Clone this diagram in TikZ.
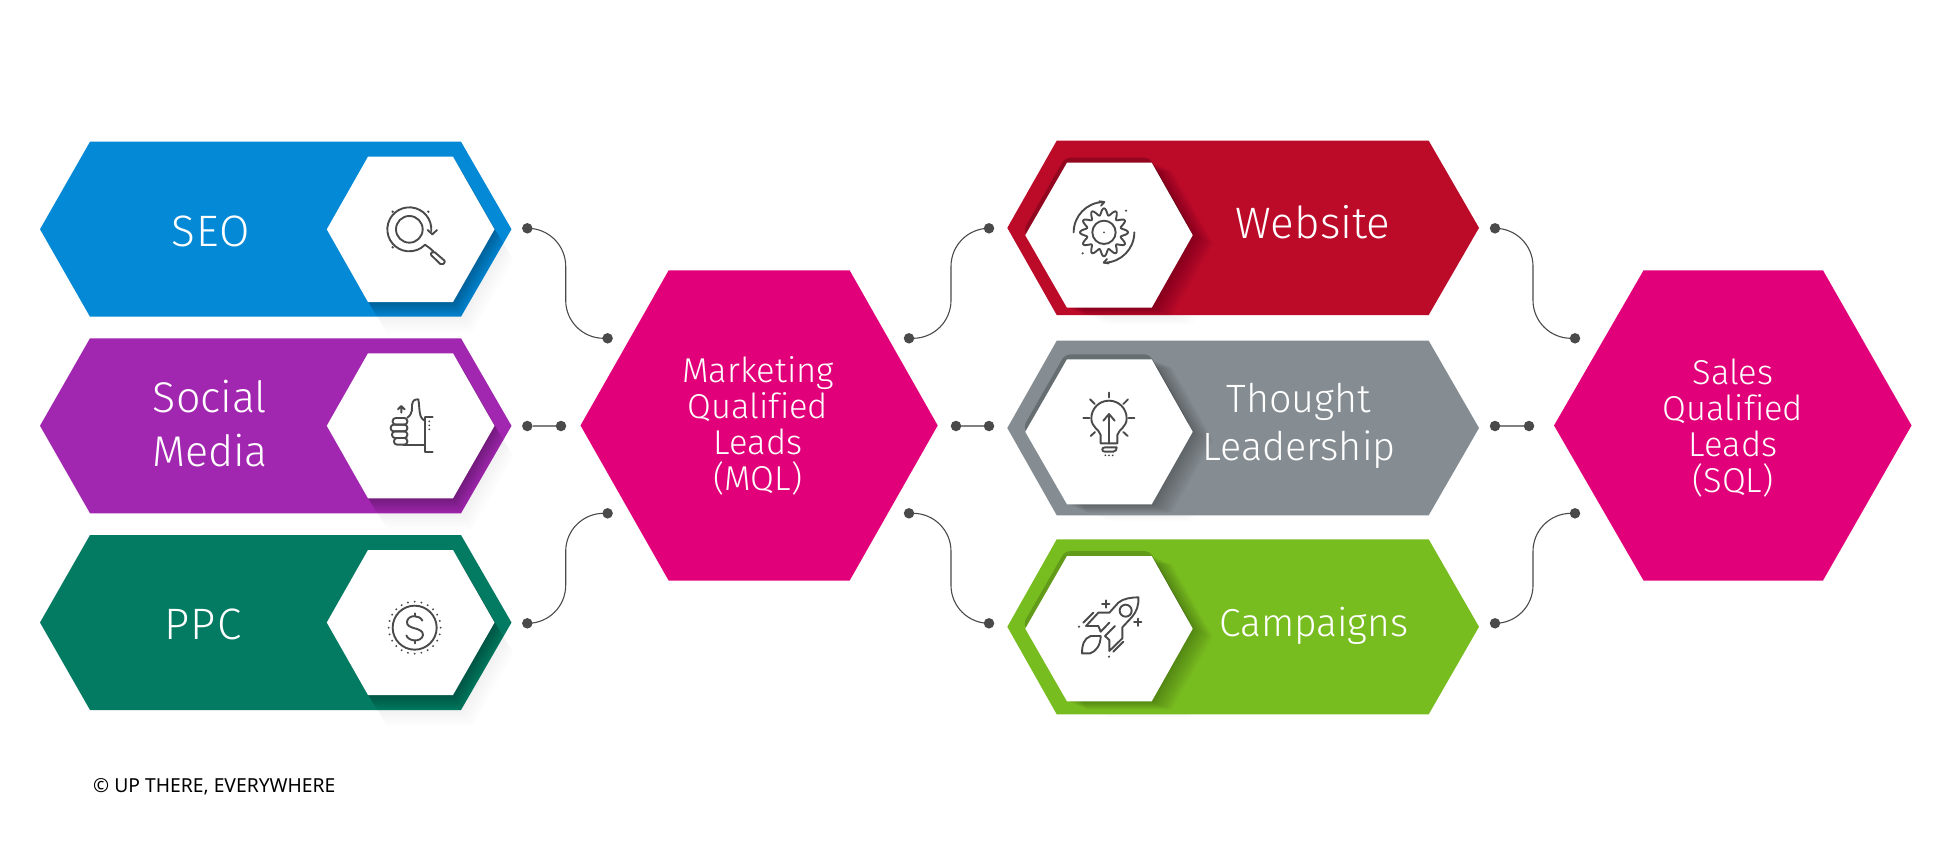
\documentclass[tikz,border=0pt]{standalone}
\usepackage{fontspec}
\setmainfont{Noto Sans}
\newfontfamily\din[UprightFont=* Light,Ligatures=NoCommon]{Fira Sans}
\newfontfamily\dinw[UprightFont=* Light,Ligatures=NoCommon,LetterSpace=3]{Fira Sans}
\newfontfamily\note{Noto Sans}
\definecolor{cseo}{HTML}{0389D6}
\definecolor{csoc}{HTML}{A227B0}
\definecolor{cppc}{HTML}{037A62}
\definecolor{cmql}{HTML}{E2007A}
\definecolor{cweb}{HTML}{BC0A29}
\definecolor{cthk}{HTML}{858D92}
\definecolor{ccam}{HTML}{78BD20}
\definecolor{ink}{HTML}{4A4A4A}
\newcommand\hexpath[6]{(#1,{(#5+#6)/2}) -- (#2,#5) -- (#3,#5) -- (#4,{(#5+#6)/2}) -- (#3,#6) -- (#2,#6) -- cycle}
% #1 colour, #2 outer hexagon, #3 white hexagon, #4 x step, #5 y step, #6 band dx, #7 band dy, #8 band opacity
\newcommand\Block[8]{%
  \foreach \s in {2,4,...,24}{\fill[black,opacity=.006,shift={(\s*#4,\s*#5)}] \hexpath#3;}
  \fill[#1] \hexpath#2;
  \begin{scope}
    \clip \hexpath#2;
    \foreach \s in {1,...,12}{\fill[black,opacity=.022,shift={(\s*#4,\s*#5)}] \hexpath#3;}
    \fill[black,opacity=#8,rounded corners=5pt,shift={(#6,#7)}] \hexpath#3;
  \end{scope}
  \fill[white] \hexpath#3;
}
\newcommand\Link[3]{\draw[conn] (#1.center) -- (#1.center -| #3) -- (#2.center -| #3) -- (#2.center);}
\tikzset{
  lbl/.style={text=white,font=\din\fontsize{44}{54}\selectfont,align=center,inner sep=0pt},
  lblw/.style={lbl,font=\dinw\fontsize{44}{54}\selectfont},
  lblm/.style={text=white,font=\din\fontsize{34.5}{36}\selectfont,align=center,inner sep=0pt},
  dotnode/.style={circle,fill=ink,draw=none,minimum size=10.5pt,inner sep=0pt},
  conn/.style={draw=ink,line width=1.1pt,rounded corners=38pt},
  connst/.style={draw=ink!70,line width=1.5pt},
  icon/.style={draw=ink,line width=1.9pt,line cap=round,line join=round}
}
\begin{document}
\begin{tikzpicture}[x=1pt,y=-1pt]
\useasboundingbox (0,0) rectangle (1945,863);
\fill[white] (0,0) rectangle (1945,863);

\Block{cseo}{{40}{90}{461}{511.5}{141.7}{316.7}}{{326.8}{368}{453}{494.5}{156.7}{302}}{.8}{1.3}{0}{0}{0}
\Block{csoc}{{40}{90}{461}{511.5}{338.3}{513.3}}{{326.8}{368}{453}{494.5}{353.3}{498.3}}{.8}{1.3}{0}{0}{0}
\Block{cppc}{{40}{90}{461}{511.5}{535}{710}}{{326.8}{368}{453}{494.5}{550}{695}}{.8}{1.3}{0}{0}{0}
\Block{cweb}{{1007.3}{1056.7}{1428.7}{1479}{140.7}{315}}{{1025.3}{1067}{1151.7}{1192.7}{162.7}{307.7}}{1.7}{.7}{-2}{-5}{.22}
\Block{cthk}{{1007.3}{1056.7}{1428.7}{1479}{340.7}{515.3}}{{1025.3}{1067}{1151.7}{1192.7}{359.3}{504.3}}{1.7}{.7}{-2}{-5}{.22}
\Block{ccam}{{1007.3}{1056.7}{1428.7}{1479}{539.3}{714.3}}{{1025.3}{1067}{1151.7}{1192.7}{556}{701.3}}{1.7}{.7}{-2}{-5}{.18}
\fill[cmql] \hexpath{580.5}{668.6}{849.7}{937.7}{270.4}{580.5};
\fill[cmql] \hexpath{1554}{1643.5}{1823}{1911.5}{270.4}{580.5};

\node[lblw,anchor=base] (seo) at (210.5,246) {SEO};
\node[lbl,anchor=center,font=\din\fontsize{43}{54}\selectfont] (social) at (210,423.5) {Social\\Media};
\node[lblw,anchor=base] (ppc) at (203,639.3) {PPC};
\node[lbl,anchor=base] (web) at (1313,238) {Website};
\node[lbl,anchor=center,font=\din\fontsize{39.5}{48}\selectfont] (thought) at (1299,426) {Thought\\Leadership};
\node[lbl,anchor=base,font=\din\fontsize{39}{48}\selectfont] (camp) at (1313.7,636) {Campaigns};
\node[lblm] (mql) at (758,426) {Marketing\\Qualified\\Leads\\(MQL)};
\node[lblm] (sql) at (1733,428) {Sales\\Qualified\\Leads\\(SQL)};
\node[anchor=base west,inner sep=0pt,font=\note\fontsize{19.3}{22}\selectfont,text=black] (copy) at (93,792) {© UP THERE, EVERYWHERE};

% connector dots
\node[dotnode] (a1) at (527.3,228.3) {};
\node[dotnode] (a2) at (607.6,338.3) {};
\node[dotnode] (b1) at (527.3,426) {};
\node[dotnode] (b2) at (561,426) {};
\node[dotnode] (c1) at (527.3,623.3) {};
\node[dotnode] (c2) at (607.6,513.3) {};
\node[dotnode] (d1) at (909,338.3) {};
\node[dotnode] (d2) at (989,228.3) {};
\node[dotnode] (e1) at (956,426) {};
\node[dotnode] (e2) at (989,426) {};
\node[dotnode] (f1) at (909,513.3) {};
\node[dotnode] (f2) at (989,623.3) {};
\node[dotnode] (g1) at (1495,228.3) {};
\node[dotnode] (g2) at (1575,338.3) {};
\node[dotnode] (h1) at (1495,426) {};
\node[dotnode] (h2) at (1529,426) {};
\node[dotnode] (i1) at (1495,623.3) {};
\node[dotnode] (i2) at (1575,513.3) {};
\coordinate (m1) at (565.7,426);
\coordinate (m2) at (951,426);
\coordinate (m3) at (1533,426);
\Link{a1}{a2}{m1}
\Link{c1}{c2}{m1}
\Link{d1}{d2}{m2}
\Link{f1}{f2}{m2}
\Link{g1}{g2}{m3}
\Link{i1}{i2}{m3}
\draw[connst] (b1) -- (b2);
\draw[connst] (e1) -- (e2);
\draw[connst] (h1) -- (h2);

% SEO icon
\begin{scope}[shift={(370,190)},x=.3333pt,y=-.3333pt]
  \draw[icon] (118,118) circle[radius=40];
  \draw[icon] (118,118) ++(5:66) arc[start angle=5,end angle=-315,radius=66];
  \draw[icon] (173,120) -- (187,133) -- (201,120);
  \draw[icon] (165,164) -- (180,175) -- (190,184);
  \draw[icon,rounded corners=2pt] (190,183) -- (180,192) -- (215,226) -- (227,215) -- cycle;
  \foreach \p in {(68,65),(175,65),(68,172)} \fill[ink] \p circle[radius=4];
\end{scope}

% thumb icon
\begin{scope}[shift={(370,350)},x=.3333pt,y=-.3333pt]
  \draw[icon] (112,203) .. controls (130,190) and (125,175) .. (126,165) .. controls (128,150) and (135,148) .. (145,148) .. controls (150,175) and (145,205) .. (165,212);
  \draw[icon] (165,202) -- (165,306) (165,202) -- (188,202) (165,306) -- (188,306);
  \draw[icon] (100,284) -- (165,284);
  \foreach \ya/\xa in {204/68,224/62,244/66,264/72}{\draw[icon,rounded corners=3pt] (\xa,\ya) rectangle (112,{\ya+20});}
  \draw[icon] (94,188) -- (94,170) (84,178) -- (94,168) -- (104,178);
  \foreach \yy in {214,226,238} \fill[ink] (178,\yy) circle[radius=3];
\end{scope}

% dollar icon
\begin{scope}[shift={(370,550)},x=.3333pt,y=-.3333pt]
  \draw[icon] (134,233) circle[radius=66];
  \foreach \a in {0,15,...,345} \fill[ink] (134,233) ++(\a:78) circle[radius=3.2];
  \draw[icon] (157,212) .. controls (150,195) and (115,192) .. (111,215) .. controls (108,240) and (160,230) .. (159,255) .. controls (155,278) and (115,275) .. (109,256);
  \draw[icon] (134,190) -- (134,197) (134,272) -- (134,280);
\end{scope}

% gear icon
\begin{scope}[shift={(1040,190)},x=.3333pt,y=-.3333pt]
  \draw[icon,smooth,samples=193,domain=0:360] plot ({192+(62+10*cos(12*\x))*cos(\x)},{127+(62+10*cos(12*\x))*sin(\x)});
  \draw[icon] (192,127) circle[radius=35];
  \fill[ink] (192,127) circle[radius=3];
  \draw[icon] (192,127) ++(180:91) arc[start angle=180,end angle=268,radius=91];
  \draw[icon] (178,34) -- (193,36) -- (183,47);
  \draw[icon] (192,127) ++(0:91) arc[start angle=0,end angle=88,radius=91];
  \draw[icon] (206,220) -- (191,218) -- (201,207);
  \fill[ink] (258,62) circle[radius=3.5] (128,190) circle[radius=3.5];
\end{scope}

% bulb icon
\begin{scope}[shift={(1060,390)},x=.3333pt,y=-.3333pt]
  \draw[icon] (122,135) ++(0,0) .. controls (118,118) and (94,112) .. (94,85) .. controls (94,55) and (118,32) .. (147,32) .. controls (176,32) and (200,55) .. (200,85) .. controls (200,112) and (176,118) .. (172,135) -- (172,160) -- (122,160) -- cycle;
  \draw[icon] (147,160) -- (147,72) (130,92) -- (147,72) -- (164,92);
  \draw[icon] (147,8) -- (147,22) (90,28) -- (104,42) (204,28) -- (190,42) (70,84) -- (88,84) (206,84) -- (223,84) (92,138) -- (105,126) (203,138) -- (190,126);
  \draw[icon] (170,172) -- (135,172) .. controls (124,172) and (124,185) .. (135,185) -- (160,185) .. controls (168,185) and (170,178) .. (170,172);
  \foreach \xx in {136,147,158} \fill[ink] (\xx,196) circle[radius=3];
\end{scope}

% rocket icon
\begin{scope}[shift={(1060,590)},x=.3333pt,y=-.3333pt]
  \draw[icon] (122,125) -- (115,108) -- (78,108) -- (115,68) -- (148,68) -- (175,38) .. controls (190,25) and (215,22) .. (235,22) .. controls (237,45) and (230,65) .. (215,82) -- (187,112) -- (187,145) -- (148,183) -- (148,150) -- (135,138);
  \draw[icon] (122,125) -- (148,98) (135,138) -- (165,108);
  \draw[icon] (197,62) circle[radius=18];
  \draw[icon] (126,42) -- (148,42) (137,31) -- (137,53);
  \draw[icon] (222,97) -- (244,97) (233,86) -- (233,108);
  \draw[icon] (100,68) -- (70,98) (190,155) -- (160,185);
  \fill[ink] (57,110) circle[radius=3.5] (147,200) circle[radius=3.5];
  \draw[icon] (122,138) -- (92,138) .. controls (72,145) and (66,165) .. (66,190) -- (90,190) .. controls (108,185) and (122,165) .. (122,138);
\end{scope}
\end{tikzpicture}
\end{document}
